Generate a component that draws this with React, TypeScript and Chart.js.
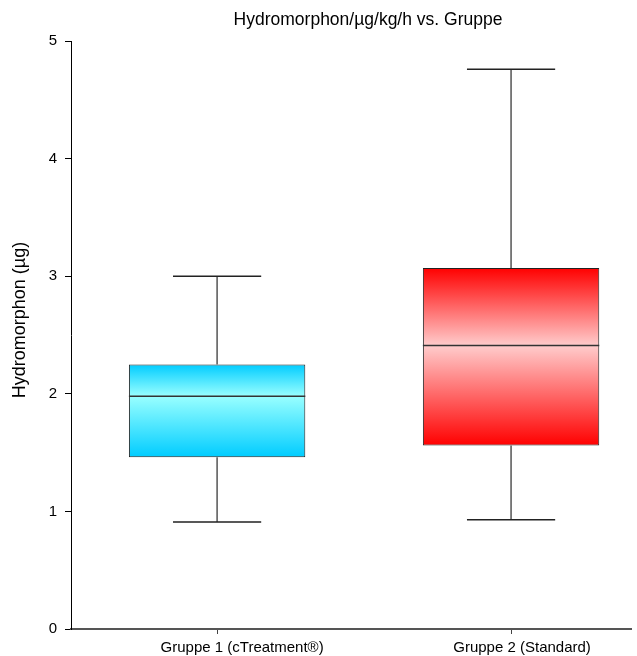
import React, { useEffect, useRef } from "react";
import { Chart, registerables } from "chart.js";

Chart.register(...registerables);

const categories = ["Gruppe 1 (cTreatment®)", "Gruppe 2 (Standard)"];
const positions = [1, 2];
const mins = [0.91, 0.93];
const q1s = [1.46, 1.56];
const medians = [1.98, 2.41];
const q3s = [2.25, 3.07];
const maxs = [3.0, 4.76];
const yTicks = [0, 1, 2, 3, 4, 5];
const edgeColors = ["#00ccff", "#ff0000"];
const centerColors = ["#99ffff", "#ffcccc"];

const titleText = "Hydromorphon/µg/kg/h vs. Gruppe";
const yTitleText = "Hydromorphon (µg)";
const FONT = "Arial, 'Liberation Sans', sans-serif";
const labelShift = [25, 11];

const boxPlugin = {
  id: "boxWhiskers",
  afterDatasetsDraw(chart: any) {
    const ctx = chart.ctx;
    const xs = chart.scales.x;
    const ys = chart.scales.y;
    const meta = chart.getDatasetMeta(0);
    ctx.save();
    positions.forEach((p, i) => {
      const x = xs.getPixelForValue(p);
      const bar = meta.data[i];
      const halfBox = bar.width / 2;
      const halfCap = bar.width / 4;
      const yMax = ys.getPixelForValue(maxs[i]);
      const yMin = ys.getPixelForValue(mins[i]);
      const yQ1 = ys.getPixelForValue(q1s[i]);
      const yQ3 = ys.getPixelForValue(q3s[i]);
      const yMed = ys.getPixelForValue(medians[i]);
      ctx.strokeStyle = "#555";
      ctx.lineWidth = 1.5;
      ctx.beginPath();
      ctx.moveTo(x, yQ3);
      ctx.lineTo(x, yMax);
      ctx.moveTo(x, yQ1);
      ctx.lineTo(x, yMin);
      ctx.stroke();
      ctx.strokeStyle = "#222";
      ctx.lineWidth = 1.5;
      ctx.beginPath();
      ctx.moveTo(x - halfCap, yMax);
      ctx.lineTo(x + halfCap, yMax);
      ctx.moveTo(x - halfCap, yMin);
      ctx.lineTo(x + halfCap, yMin);
      ctx.stroke();
      ctx.strokeStyle = "#333";
      ctx.lineWidth = 1.5;
      ctx.beginPath();
      ctx.moveTo(x - halfBox, yMed);
      ctx.lineTo(x + halfBox, yMed);
      ctx.stroke();
    });
    ctx.restore();
  },
  afterDraw(chart: any) {
    const ctx = chart.ctx;
    const area = chart.chartArea;
    const xs = chart.scales.x;
    ctx.save();
    ctx.fillStyle = "#000";
    ctx.textAlign = "center";
    ctx.textBaseline = "middle";
    ctx.font = `15px ${FONT}`;
    positions.forEach((p, i) => {
      ctx.fillText(categories[i], xs.getPixelForValue(p) + labelShift[i], area.bottom + 19);
    });
    ctx.font = `17.5px ${FONT}`;
    ctx.fillText(titleText, 368, 20);
    ctx.font = `18px ${FONT}`;
    ctx.translate(20, 320);
    ctx.rotate(-Math.PI / 2);
    ctx.fillText(yTitleText, 0, 0);
    ctx.restore();
  },
};

export default function App() {
  const ref = useRef<HTMLCanvasElement | null>(null);
  useEffect(() => {
    if (!ref.current) return;
    const chart = new Chart(ref.current, {
      type: "bar",
      data: {
        datasets: [
          {
            data: positions.map((p, i) => ({ x: p, y: [q1s[i], q3s[i]] })) as any,
            backgroundColor: (c: any) => {
              const chart = c.chart;
              const i = c.dataIndex;
              if (!chart.chartArea || i === undefined) return edgeColors[0];
              const ys = chart.scales.y;
              const top = ys.getPixelForValue(q3s[i]);
              const bottom = ys.getPixelForValue(q1s[i]);
              const mid = ys.getPixelForValue(medians[i]);
              const g = chart.ctx.createLinearGradient(0, top, 0, bottom);
              const f = Math.min(1, Math.max(0, (mid - top) / (bottom - top)));
              g.addColorStop(0, edgeColors[i]);
              g.addColorStop(f, centerColors[i]);
              g.addColorStop(1, edgeColors[i]);
              return g;
            },
            borderColor: "#222",
            borderWidth: 1,
            borderSkipped: false,
            barPercentage: 0.6,
            categoryPercentage: 1,
          },
        ],
      },
      options: {
        animation: false,
        responsive: false,
        maintainAspectRatio: false,
        layout: { padding: { top: 41, right: 6, left: 0, bottom: 0 } },
        plugins: {
          legend: { display: false },
          title: { display: false },
          tooltip: { enabled: false },
        },
        scales: {
          x: {
            type: "linear",
            min: 0.503,
            max: 2.408,
            offset: false,
            afterBuildTicks: (s: any) => {
              s.ticks = positions.map((v) => ({ value: v }));
            },
            afterFit: (s: any) => {
              s.height = 27;
            },
            ticks: {
              display: false,
              autoSkip: false,
              maxRotation: 0,
            },
            grid: { offset: false, drawOnChartArea: false, drawTicks: true, tickLength: 5, color: "#444" },
            border: { color: "#555", width: 2 },
          },
          y: {
            type: "linear",
            min: 0,
            max: 5,
            afterBuildTicks: (s: any) => {
              s.ticks = yTicks.map((v) => ({ value: v }));
            },
            afterFit: (s: any) => {
              s.width = 71;
            },
            ticks: {
              color: "#000",
              padding: 8,
              font: { family: FONT, size: 15 },
            },
            grid: { drawOnChartArea: false, drawTicks: true, tickLength: 6, color: "#000" },
            border: { color: "#000", width: 1 },
          },
        },
      },
      plugins: [boxPlugin],
    });
    return () => chart.destroy();
  }, []);
  return (
    <div style={{ position: "absolute", left: 0, top: 0, width: 637, height: 656, background: "#fff" }}>
      <canvas ref={ref} width={637} height={656} style={{ width: 637, height: 656 }} />
    </div>
  );
}
